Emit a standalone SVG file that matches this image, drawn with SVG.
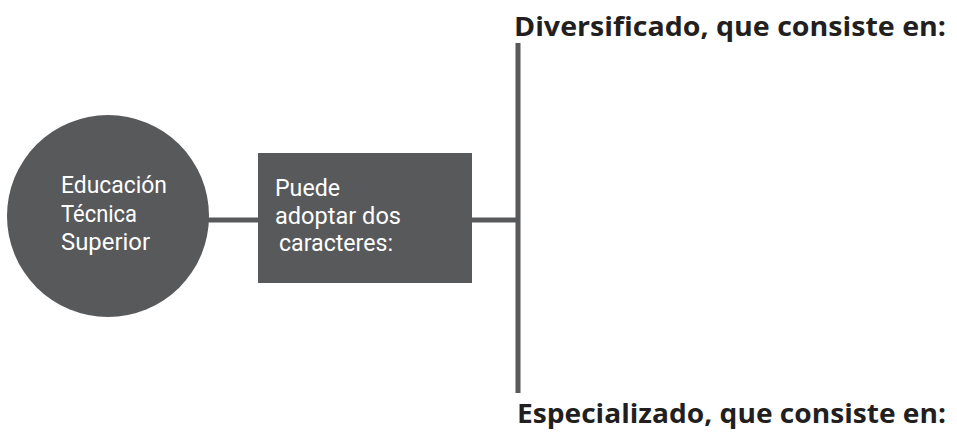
<svg xmlns="http://www.w3.org/2000/svg" width="957" height="434" viewBox="0 0 957 434">
<style>
.shape{fill:#58595b}
.conn{stroke:#58595b;stroke-width:5;fill:none}
.lbl{fill:#ffffff;font-family:"Roboto","Liberation Sans",sans-serif;font-size:24px}
.head{fill:#231f20;font-family:"Open Sans","Liberation Sans",sans-serif;font-weight:bold;font-size:27px}
</style>
<rect width="957" height="434" fill="#ffffff"/>
<g id="connectors">
<line class="conn" x1="205" y1="220" x2="262" y2="220"/>
<line class="conn" x1="468" y1="220" x2="520" y2="220"/>
<line class="conn" x1="518" y1="43" x2="518" y2="393"/>
</g>
<g id="node-educacion">
<circle class="shape" cx="108" cy="216" r="101"/>
<text class="lbl"><tspan x="61" y="193" textLength="106" lengthAdjust="spacingAndGlyphs">Educación</tspan><tspan x="61" y="222" textLength="76" lengthAdjust="spacingAndGlyphs">Técnica</tspan><tspan x="61" y="250" textLength="89" lengthAdjust="spacingAndGlyphs">Superior</tspan></text>
</g>
<g id="node-puede">
<rect class="shape" x="258" y="153" width="214" height="130"/>
<text class="lbl"><tspan x="275" y="196" textLength="65" lengthAdjust="spacingAndGlyphs">Puede</tspan><tspan x="275" y="224" textLength="126" lengthAdjust="spacingAndGlyphs">adoptar dos</tspan><tspan x="279" y="251" textLength="114" lengthAdjust="spacingAndGlyphs">caracteres:</tspan></text>
</g>
<g id="node-diversificado">
<text class="head" x="514" y="36" textLength="432" lengthAdjust="spacingAndGlyphs">Diversificado, que consiste en:</text>
</g>
<g id="node-especializado">
<text class="head" x="517" y="423" textLength="429" lengthAdjust="spacingAndGlyphs">Especializado, que consiste en:</text>
</g>
</svg>
